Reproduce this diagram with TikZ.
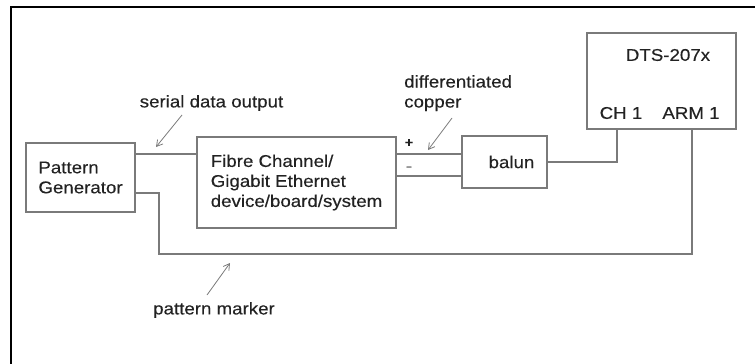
\documentclass[tikz,border=0pt]{standalone}
\usepackage{fontspec}
\setmainfont{Liberation Sans}[FakeStretch=1.1, FakeBold=0.3]
\usetikzlibrary{arrows.meta}
\definecolor{wiregray}{HTML}{7A7A7A}
\definecolor{inkgray}{HTML}{222222}
\tikzset{
  unit/.style={draw=wiregray, line width=1.5pt, inner sep=0pt, align=left, text=inkgray},
  wire/.style={draw=wiregray, line width=1.5pt},
  pointer/.style={draw=wiregray, line width=0.8pt, -{Straight Barb[length=6pt,width=7pt]}},
  lbl/.style={text=inkgray, inner sep=0pt, align=left}
}
\begin{document}
\begin{tikzpicture}[x=1pt, y=-1pt, font=\fontsize{17}{20}\selectfont]
        \useasboundingbox (0,0) rectangle (755,364);
        \draw[line width=2.5pt] (11,364) -- (11,7) -- (755,7);
        \node[unit, minimum width=109pt, minimum height=69pt] (pg) at (80.5,177.5) {Pattern\\Generator};
        \node[unit, minimum width=199pt, minimum height=91pt] (fc) at (296.5,182.5) {Fibre Channel/\\Gigabit Ethernet\\device/board/system};
        \node[unit, minimum width=85pt, minimum height=52pt] (balun) at (504.5,162) {\hspace{14pt}balun};
        \node[unit, minimum width=149pt, minimum height=96pt] (dts) at (661.5,81) {};
        \node[lbl] (dtsname) at (668,55) {DTS-207x};
        \node[lbl] (ch) at (621,113) {CH 1};
        \node[lbl] (arm) at (691,113) {ARM 1};
        \coordinate (ser) at (0,154);
        \coordinate (minus) at (0,176);
        \coordinate (mk) at (0,193);
        \coordinate (mkbend) at (159,254);
        \coordinate (chport) at (617,129);
        \coordinate (armport) at (692,129);
        \draw[wire] (pg.east |- ser) -- (fc.west |- ser);
        \draw[wire] (fc.east |- ser) -- (balun.west |- ser);
        \draw[wire] (fc.east |- minus) -- (balun.west |- minus);
        \draw[wire] (balun.east) -| (chport);
        \draw[wire] (pg.east |- mk) -| (mkbend) -| (armport);
        \node[lbl, font=\fontsize{13}{13}\selectfont\bfseries] (plus) at (409,143) {+};
        \node[lbl, text=wiregray] (minussign) at (409,169) {-};
        \node[lbl] (serlbl) at (211.5,103) {serial data output};
        \node[lbl, anchor=north west] (difflbl) at (404,75) {differentiated\\copper};
        \node[lbl] (mklbl) at (214,310) {pattern marker};
        \coordinate (serend) at (156,147);
        \coordinate (diffend) at (428,150);
        \coordinate (mkend) at (230,263);
        \draw[pointer] (182,115) -- (serend);
        \draw[pointer] (452,118) -- (diffend);
        \draw[pointer] (207,295) -- (mkend);
    \end{tikzpicture}
\end{document}
